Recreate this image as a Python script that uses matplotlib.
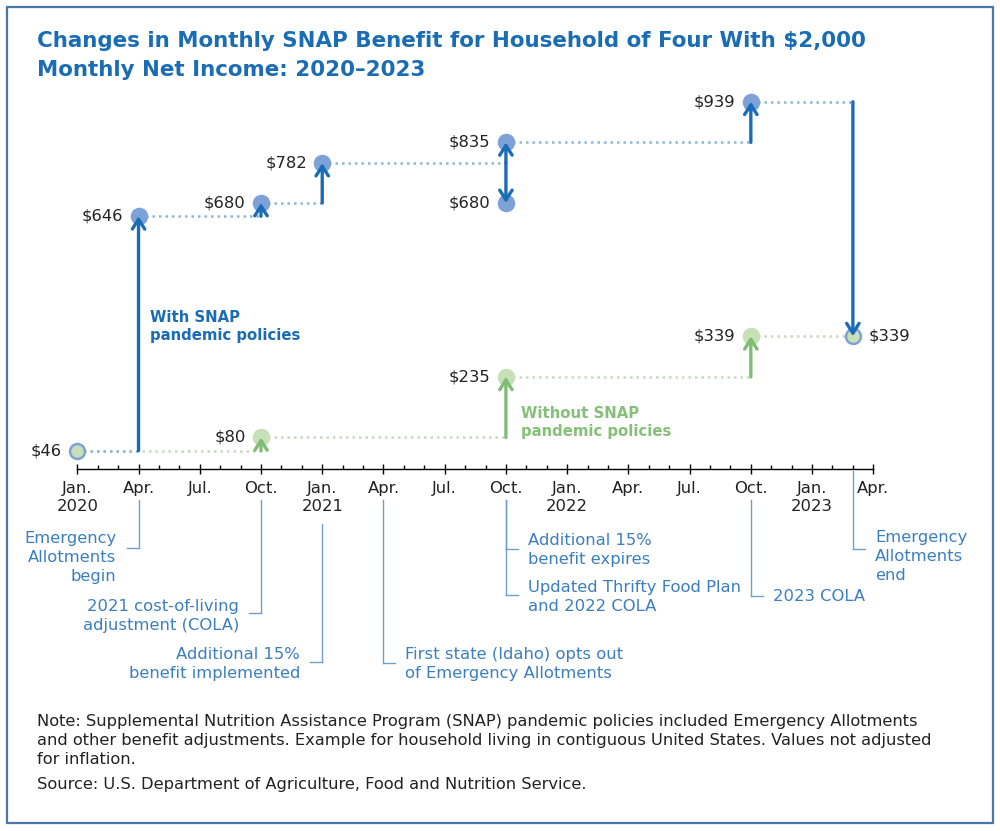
#!/usr/bin/env python3
"""
Monthly SNAP benefit for a household of four with $2,000 net income, 2020-2023.
"""

import matplotlib
matplotlib.use("Agg")
import matplotlib.pyplot as plt
from matplotlib.patches import Rectangle
from matplotlib.transforms import offset_copy

# months counted from Jan. 2020
with_months = [0, 3, 9, 12, 21, 33, 38]
with_values = [46, 646, 680, 782, 835, 939, 339]
expired_month = 21
expired_value = 680
without_months = [0, 9, 21, 33, 38]
without_values = [46, 80, 235, 339, 339]

tick_months = list(range(0, 40, 3))
tick_labels = ["Jan.\n2020", "Apr.", "Jul.", "Oct.", "Jan.\n2021", "Apr.", "Jul.",
               "Oct.", "Jan.\n2022", "Apr.", "Jul.", "Oct.", "Jan.\n2023", "Apr."]

event_months = [3, 9, 12, 15, 21, 21, 33, 38]
event_labels = [
    "Emergency\nAllotments\nbegin",
    "2021 cost-of-living\nadjustment (COLA)",
    "Additional 15%\nbenefit implemented",
    "First state (Idaho) opts out\nof Emergency Allotments",
    "Additional 15%\nbenefit expires",
    "Updated Thrifty Food Plan\nand 2022 COLA",
    "2023 COLA",
    "Emergency\nAllotments\nend",
]
# side, line start, bracket, text centre (pixels below the axis line)
event_layout = [
    ("left", 31, 79, 89),
    ("left", 31, 144, 147),
    ("left", 55, 193, 195),
    ("right", 31, 194, 195),
    ("right", 31, 80, 81),
    ("right", 31, 126, 128),
    ("right", 31, 127, 128),
    ("right", 2, 80, 88),
]

TITLE_LINES = ["Changes in Monthly SNAP Benefit for Household of Four With $2,000",
               "Monthly Net Income: 2020\u20132023"]
NOTE_LINES = [
    "Note: Supplemental Nutrition Assistance Program (SNAP) pandemic policies included Emergency Allotments",
    "and other benefit adjustments. Example for household living in contiguous United States. Values not adjusted",
    "for inflation.",
]
SOURCE = "Source: U.S. Department of Agriculture, Food and Nutrition Service."

TITLE_BLUE = "#1a6db5"
ARROW_BLUE = "#1a6db5"
DOT_BLUE = "#7ea2d8"
DOTTED_BLUE = "#8cb8da"
ARROW_GREEN = "#80bd74"
DOT_GREEN = "#c8e0b8"
DOTTED_GREEN = "#c6dbbd"
GREEN_TEXT = "#84c078"
EVENT_BLUE = "#3b7fc0"
LEADER = "#6f9fcd"
FRAME = "#4c75a9"

FONT = "DejaVu Sans"
TEXT_SIZE = 11.8


def step_series(ax, months, values, dotted, arrow):
    for i in range(len(months) - 1):
        ax.plot([months[i], months[i + 1]], [values[i], values[i]], color=dotted,
                lw=1.8, linestyle=(0, (1, 1.6)), zorder=2)
        if values[i + 1] != values[i]:
            draw_arrow(ax, months[i + 1], values[i], values[i + 1], arrow)


def draw_arrow(ax, month, v_from, v_to, color):
    ax.annotate("", xy=(month, v_to), xytext=(month, v_from),
                arrowprops=dict(arrowstyle="->,head_length=0.5,head_width=0.32",
                                color=color, lw=2.4, shrinkA=0, shrinkB=0,
                                mutation_scale=14), zorder=4)


def value_label(ax, month, value, side="left"):
    dx = -11 if side == "left" else 11
    ax.annotate(f"${value}", xy=(month, value), xytext=(dx, 0), textcoords="offset points",
                ha="right" if side == "left" else "left", va="center",
                fontsize=TEXT_SIZE, color="#222222", family=FONT)


def main():
    fig = plt.figure(figsize=(10, 8.31), dpi=100)
    ax = fig.add_axes([0.0773, 1 - 468.7 / 831, 0.796, 390.8 / 831])
    ax.set_xlim(0, 39)
    ax.set_ylim(0, 1000)

    for s in ["top", "right", "left"]:
        ax.spines[s].set_visible(False)
    ax.spines["bottom"].set_linewidth(1.0)
    ax.set_yticks([])
    ax.set_xticks(tick_months)
    ax.set_xticklabels(tick_labels, fontsize=TEXT_SIZE, family=FONT, color="#222222")
    for lbl in ax.get_xticklabels():
        lbl.set_linespacing(1.32)
    ax.set_xticks(range(0, 40), minor=True)
    ax.tick_params(axis="x", which="major", direction="inout", length=7, width=1, pad=5)
    ax.tick_params(axis="x", which="minor", direction="in", length=3, width=1)

    # step lines and arrows
    step_series(ax, without_months, without_values, DOTTED_GREEN, ARROW_GREEN)
    step_series(ax, with_months, with_values, DOTTED_BLUE, ARROW_BLUE)
    draw_arrow(ax, expired_month, with_values[3], expired_value, ARROW_BLUE)

    # dots
    ax.scatter(with_months[1:-1] + [expired_month], with_values[1:-1] + [expired_value],
               s=160, color=DOT_BLUE, lw=0, zorder=3, clip_on=False)
    ax.scatter(without_months[1:-1], without_values[1:-1], s=160, color=DOT_GREEN,
               lw=0, zorder=3, clip_on=False)
    ax.scatter([with_months[0], with_months[-1]], [with_values[0], with_values[-1]],
               s=115, color=DOT_GREEN, edgecolor=DOT_BLUE, lw=1.8, zorder=3, clip_on=False)

    # value labels
    value_label(ax, with_months[0], with_values[0])
    for m, v in zip(with_months[1:-1], with_values[1:-1]):
        value_label(ax, m, v)
    value_label(ax, expired_month, expired_value)
    for m, v in zip(without_months[1:-1], without_values[1:-1]):
        value_label(ax, m, v)
    value_label(ax, with_months[-1], with_values[-1], side="right")

    # series names
    ax.annotate("With SNAP\npandemic policies",
                xy=(with_months[1], (with_values[0] + with_values[1]) / 2),
                xytext=(8, 5), textcoords="offset points", ha="left", va="center",
                fontsize=10.7, fontweight="bold", color=ARROW_BLUE, family=FONT,
                linespacing=1.3)
    ax.annotate("Without SNAP\npandemic policies",
                xy=(without_months[2], (without_values[1] + without_values[2]) / 2),
                xytext=(11, -11), textcoords="offset points", ha="left", va="center",
                fontsize=10.7, fontweight="bold", color=GREEN_TEXT, family=FONT,
                linespacing=1.3)

    # event leader lines below the axis
    ax_h = ax.bbox.height
    px_month = ax.bbox.width / 39
    xt = ax.get_xaxis_transform()
    for m, text, (side, start, bracket, centre) in zip(event_months, event_labels, event_layout):
        sign = -1 if side == "left" else 1
        ax.plot([m, m], [-start / ax_h, -bracket / ax_h], transform=xt, color=LEADER,
                lw=1, clip_on=False)
        ax.plot([m, m + sign * 12 / px_month], [-bracket / ax_h, -bracket / ax_h],
                transform=xt, color=LEADER, lw=1, clip_on=False)
        tr = offset_copy(xt, fig=fig, x=sign * 22, y=-centre, units="dots")
        ax.text(m, 0, text, transform=tr, ha="right" if side == "left" else "left",
                va="center", fontsize=TEXT_SIZE, color=EVENT_BLUE, family=FONT,
                linespacing=1.32, clip_on=False)

    # title
    for line, base in zip(TITLE_LINES, [47, 76]):
        fig.text(0.037, 1 - base / 831, line, ha="left", va="baseline", fontsize=15.4,
                 fontweight="bold", color=TITLE_BLUE, family=FONT)

    # note and source
    for line, base in zip(NOTE_LINES, [726, 745, 764]):
        fig.text(0.037, 1 - base / 831, line, ha="left", va="baseline", fontsize=11.7,
                 color="#222222", family=FONT)
    fig.text(0.037, 1 - 789 / 831, SOURCE, ha="left", va="baseline", fontsize=11.7,
             color="#222222", family=FONT)

    fig.patches.append(Rectangle((7 / 1000, 8 / 831), 986 / 1000, 816 / 831,
                                 transform=fig.transFigure, fill=False,
                                 edgecolor=FRAME, lw=1.6))

    fig.savefig("out.png", dpi=100)


if __name__ == "__main__":
    main()
